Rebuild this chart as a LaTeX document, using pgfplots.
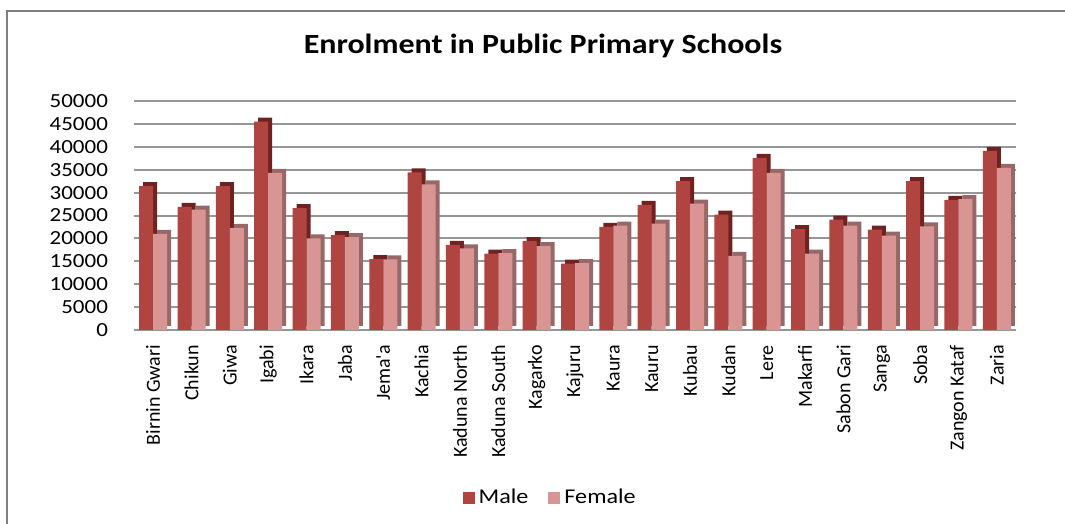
\documentclass[border=0pt]{standalone}
\usepackage{pgfplots}
\pgfplotsset{compat=1.18}
\usepackage{pgfplotstable}
\usepackage{fontspec}
\setmainfont{Carlito}[FakeStretch=1.15]
\newfontfamily\rotfont{Carlito}
\definecolor{male}{RGB}{175,68,65}
\definecolor{maleside}{RGB}{112,34,32}
\definecolor{female}{RGB}{217,149,148}
\definecolor{femaleside}{RGB}{150,104,103}
\definecolor{gridgray}{RGB}{150,150,150}
\definecolor{framegray}{RGB}{128,128,128}

\pgfplotstableread{
x male female
0 31400 21000
1 26900 26300
2 31400 22300
3 45500 34300
4 26600 20000
5 20700 20300
6 15500 15400
7 34400 31800
8 18600 17800
9 16700 16800
10 19400 18300
11 14500 14600
12 22500 22800
13 27300 23200
14 32500 27600
15 25200 16200
16 37600 34300
17 22000 16700
18 24100 22800
19 21900 20600
20 32500 22600
21 28400 28600
22 39100 35400
}\data

\begin{document}
\begin{tikzpicture}
\useasboundingbox (0pt,0pt) rectangle (532.5pt,262pt);
\draw[framegray, line width=1pt] (3.5pt,0pt) -- (3.5pt,256.5pt) -- (532.5pt,256.5pt);
\node[font=\fontsize{13.9}{16}\selectfont\bfseries] at (271.5pt,239pt) {Enrolment in Public Primary Schools};
\begin{axis}[
  at={(67pt,97pt)}, anchor=south west,
  scale only axis, width=441pt, height=114.5pt,
  ybar=0pt, bar width=7pt,
  xmin=-0.5, xmax=22.5, ymin=0, ymax=50000,
  xtick={0,...,22},
  xticklabels={Birnin Gwari, Chikun, Giwa, Igabi, Ikara, Jaba, Jema'a, Kachia, Kaduna North, Kaduna South, Kagarko, Kajuru, Kaura, Kauru, Kubau, Kudan, Lere, Makarfi, Sabon Gari, Sanga, Soba, Zangon Kataf, Zaria},
  xticklabel style={rotate=90, anchor=east, font=\rotfont\fontsize{10}{12}\selectfont},
  xticklabel shift=4pt,
  ytick={0,5000,...,50000},
  scaled y ticks=false,
  yticklabel style={font=\fontsize{10}{12}\selectfont},
  yticklabel shift=9.5pt,
  /pgf/number format/1000 sep={},
  /pgf/number format/assume math mode=true,
  major tick length=0pt,
  ymajorgrids, grid style={gridgray, line width=1pt},
  axis x line*=bottom, axis y line*=left,
  x axis line style={gridgray, line width=1pt, -},
  y axis line style={draw=none},
  legend columns=2,
  legend style={at={(0.473,-0.7336)}, anchor=center, draw=none, fill=none,
    font=\fontsize{10.5}{12}\selectfont,
    /tikz/every even column/.append style={column sep=8pt}},
  legend image code/.code={\fill[#1] (0pt,-3pt) rectangle (6pt,3pt);},
]
\addplot[fill=maleside, draw=none, forget plot, bar shift=-3.5pt, xshift=2pt, yshift=2pt] table[x=x,y=male]{\data};
\addplot[fill=male, draw=none, bar shift=-3.5pt] table[x=x,y=male]{\data};
\addlegendentry{Male}
\addplot[fill=femaleside, draw=none, forget plot, bar shift=3.5pt, xshift=2pt, yshift=2pt] table[x=x,y=female]{\data};
\addplot[fill=female, draw=none, bar shift=3.5pt] table[x=x,y=female]{\data};
\addlegendentry{Female}
\end{axis}
\end{tikzpicture}
\end{document}
